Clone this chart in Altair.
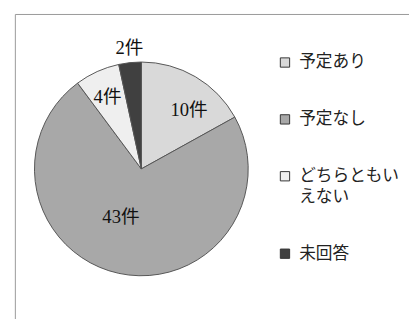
import altair as alt
import pandas as pd

categories = ["予定あり", "予定なし", "どちらともいえない", "未回答"]
counts = [10, 43, 4, 2]
labels = ["10件", "43件", "4件", "2件"]
colors = ["#d9d9d9", "#a8a8a8", "#efefef", "#404040"]

df = pd.DataFrame({"category": categories, "count": counts, "label": labels,
                   "order": list(range(len(categories)))})

color_scale = alt.Scale(domain=categories, range=colors)
frac_scale = alt.Scale(domain=[0, 1])
CX, CY = 136, 161
FONT_NUM = "Liberation Serif, DejaVu Serif, Noto Sans CJK JP"
FONT_JP = "Noto Sans CJK JP"

base = alt.Chart(df).transform_joinaggregate(
    total="sum(count)"
).transform_window(
    cum="sum(count)", sort=[alt.SortField("order")], frame=[None, 0]
).transform_calculate(
    f0="(datum.cum - datum.count) / datum.total",
    f1="datum.cum / datum.total",
    fm="(datum.cum - datum.count / 2) / datum.total",
)

pie = base.mark_arc(outerRadius=109, stroke="#555555", strokeWidth=1).encode(
    x=alt.value(CX), y=alt.value(CY),
    theta=alt.Theta("f0:Q", scale=frac_scale),
    theta2="f1:Q",
    color=alt.Color(
        "category:N", scale=color_scale, sort=categories,
        legend=alt.Legend(
            title=None, orient="none", legendX=274, legendY=44,
            symbolType="square", symbolSize=90, symbolStrokeColor="#333333",
            symbolStrokeWidth=1, labelFont=FONT_JP, labelFontSize=17,
            labelColor="#222222", labelOffset=6, labelLimit=300, rowPadding=40,
            labelExpr="datum.label == 'どちらともいえない' ? ['どちらともい', 'えない'] : datum.label",
        ),
    ),
)

def label_layer(lbl, r, dx=0, dy=0):
    return base.transform_filter(alt.datum.label == lbl).mark_text(
        radius=r, dx=dx, dy=dy, font=FONT_NUM, fontSize=19, color="#111111",
        align="center", baseline="middle",
    ).encode(x=alt.value(CX), y=alt.value(CY),
             theta=alt.Theta("fm:Q", scale=frac_scale), text="label:N")

texts = [
    label_layer("10件", 80, 8, 9),
    label_layer("43件", 51, -10, -1),
    label_layer("4件", 81, -1, 1),
    label_layer("2件", 124, 1, 0),
]

one = pd.DataFrame({"a": [0]})
left_rule = alt.Chart(one).mark_rule(color="#999999", strokeWidth=1).encode(
    x=alt.value(7.5), y=alt.value(3.5), y2=alt.value(330))
top_rule = alt.Chart(one).mark_rule(color="#999999", strokeWidth=1).encode(
    x=alt.value(7.5), x2=alt.value(430), y=alt.value(3.5))

chart = alt.layer(pie, *texts, left_rule, top_rule).properties(
    width=409, height=311, autosize=alt.AutoSizeParams(type="none"), padding=0,
    background="white",
).configure(
    style={"guide-label": {"lineHeight": 21}}
).configure_view(stroke=None)

chart.save("out.html", embed_options={"renderer": "svg", "actions": False})
